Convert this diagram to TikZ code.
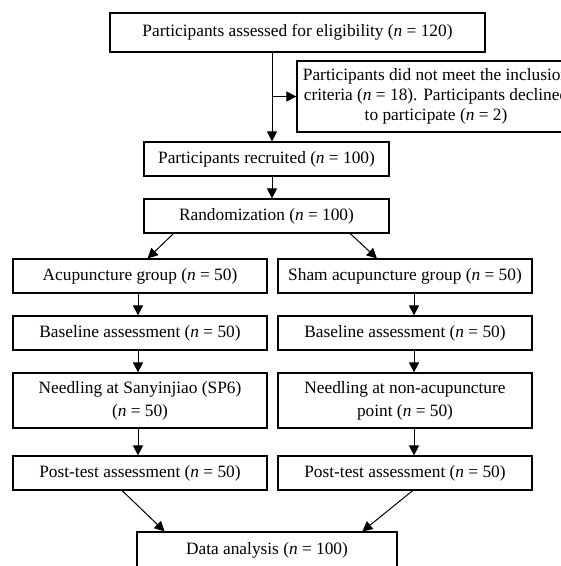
\documentclass[tikz,border=0pt]{standalone}
\usepackage{fontspec}
\setmainfont{Liberation Serif}
\usetikzlibrary{arrows.meta,calc}

\begin{document}
\begin{tikzpicture}[x=0.75pt,y=-0.75pt,
  box/.style={draw,line width=0.9pt,align=center,inner sep=2pt,
    font=\fontsize{13}{15}\selectfont},
  arr/.style={line width=0.75pt,-{Triangle[length=7.5pt,width=7.5pt]}}]

  \useasboundingbox (0,0) rectangle (560,566);

  % top of the chart
  \node[box,minimum width=281.25pt,minimum height=29.25pt] (elig) at (297.5,32.5)
    {Participants assessed for eligibility (\textit{n} = 120)};
  \node[box,minimum width=208.5pt,minimum height=53.25pt] (excl) at (436,96.5)
    {Participants did not meet the inclusion\\criteria (\textit{n} = 18). Participants declined\\to participate (\textit{n} = 2)};
  \node[box,minimum width=183.75pt,minimum height=25.5pt] (recr) at (266.5,159)
    {Participants recruited (\textit{n} = 100)};
  \node[box,minimum width=183.75pt,minimum height=25.5pt] (rand) at (266.5,216)
    {Randomization (\textit{n} = 100)};

  % the two arms
  \node[box,minimum width=190.5pt,minimum height=25.5pt] (acup) at (140,276)
    {Acupuncture group (\textit{n} = 50)};
  \node[box,minimum width=190.5pt,minimum height=25.5pt] (sham) at (405,276)
    {Sham acupuncture group (\textit{n} = 50)};
  \node[box,minimum width=190.5pt,minimum height=25.5pt] (base1) at (140,333)
    {Baseline assessment (\textit{n} = 50)};
  \node[box,minimum width=190.5pt,minimum height=25.5pt] (base2) at (405,333)
    {Baseline assessment (\textit{n} = 50)};
  \node[box,minimum width=190.5pt,minimum height=41.25pt] (need1) at (140,400.5)
    {Needling at Sanyinjiao (SP6)\\[2pt](\textit{n} = 50)};
  \node[box,minimum width=190.5pt,minimum height=41.25pt] (need2) at (405,400.5)
    {Needling at non-acupuncture\\[2pt]point (\textit{n} = 50)};
  \node[box,minimum width=190.5pt,minimum height=25.5pt] (post1) at (140,473)
    {Post-test assessment (\textit{n} = 50)};
  \node[box,minimum width=190.5pt,minimum height=25.5pt] (post2) at (405,473)
    {Post-test assessment (\textit{n} = 50)};

  % bottom
  \node[box,minimum width=195pt,minimum height=27pt] (data) at (267,550)
    {Data analysis (\textit{n} = 100)};

  % columns of the arrows
  \coordinate (trunk) at (272,0);
  \coordinate (lcol) at (138,0);
  \coordinate (rcol) at (414,0);

  % trunk and exclusion
  \draw[arr] (elig.south -| trunk) -- (recr.north -| trunk);
  \draw[arr] (excl.west -| trunk) -- (excl.west);
  \draw[arr] (recr.south -| trunk) -- (rand.north -| trunk);

  % split
  \draw[arr] ($(rand.south west)!0.122!(rand.south east)$) -- ($(acup.north west)!0.53!(acup.north east)$);
  \draw[arr] ($(rand.south west)!0.84!(rand.south east)$) -- ($(sham.north west)!0.39!(sham.north east)$);

  % left arm
  \draw[arr] (acup.south -| lcol) -- (base1.north -| lcol);
  \draw[arr] (base1.south -| lcol) -- (need1.north -| lcol);
  \draw[arr] (need1.south -| lcol) -- (post1.north -| lcol);

  % right arm
  \draw[arr] (sham.south -| rcol) -- (base2.north -| rcol);
  \draw[arr] (base2.south -| rcol) -- (need2.north -| rcol);
  \draw[arr] (need2.south -| rcol) -- (post2.north -| rcol);

  % merge
  \draw[arr] ($(post1.south west)!0.43!(post1.south east)$) -- ($(data.north west)!0.108!(data.north east)$);
  \draw[arr] ($(post2.south west)!0.53!(post2.south east)$) -- ($(data.north west)!0.865!(data.north east)$);
\end{tikzpicture}
\end{document}
